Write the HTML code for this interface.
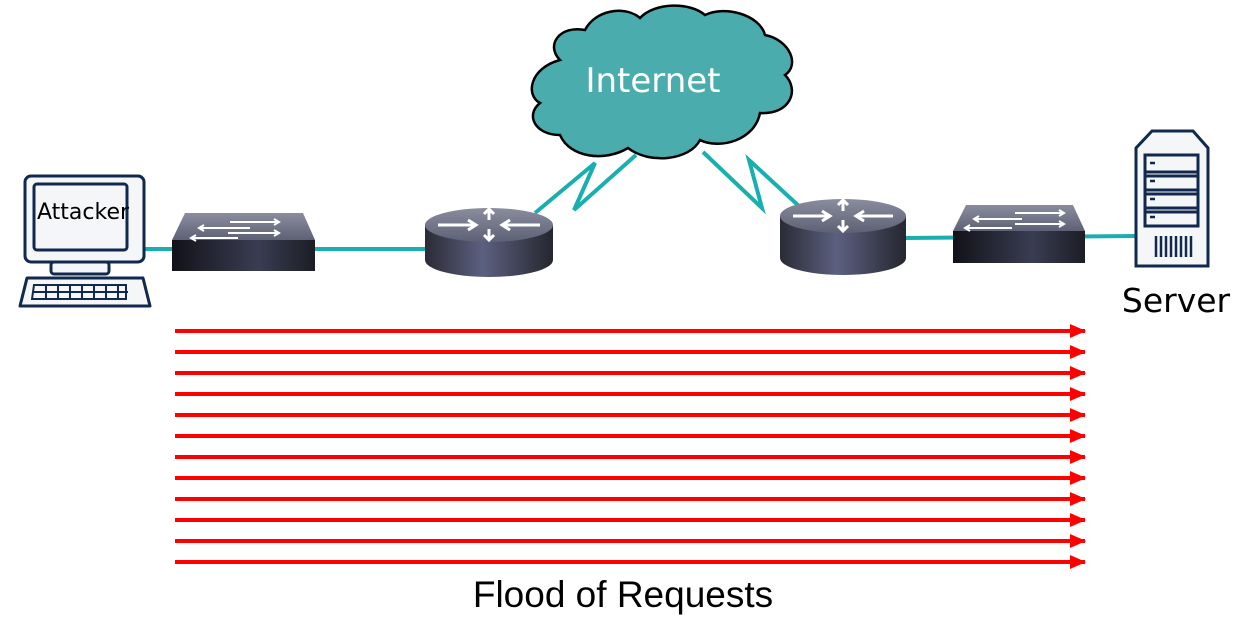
<!DOCTYPE html>
<html><head><meta charset="utf-8"><style>html,body{margin:0;padding:0;background:#fff}svg{display:block}</style></head>
<body>
<svg width="1256" height="639" viewBox="0 0 1256 639" xmlns="http://www.w3.org/2000/svg">
<defs>
<linearGradient id="body" x1="0" x2="1" y1="0" y2="0">
<stop offset="0" stop-color="#2a2b35"/><stop offset="0.45" stop-color="#5c6080"/><stop offset="1" stop-color="#25262e"/></linearGradient>
<linearGradient id="top" x1="0" x2="0" y1="0" y2="1">
<stop offset="0" stop-color="#8a8d9e"/><stop offset="1" stop-color="#5e6175"/></linearGradient>
<linearGradient id="front" x1="0" x2="1" y1="0" y2="0">
<stop offset="0" stop-color="#111218"/><stop offset="0.6" stop-color="#3a3d52"/><stop offset="1" stop-color="#1c1d25"/></linearGradient>
<marker id="ah" markerWidth="16" markerHeight="14" refX="15" refY="7" orient="auto" markerUnits="userSpaceOnUse">
<path d="M0,0 L16,7 L0,14 Z" fill="#ff0000"/></marker>
</defs>

<g stroke="#1aafaf" stroke-width="4" fill="none">
<line x1="145" y1="249" x2="430" y2="249"/>
<line x1="905" y1="238" x2="1137" y2="236"/>
<polyline points="535,213 595,163 574,210 636,155"/>
<polyline points="703,152 762,208 749,160 800,207"/>
</g>

<path d="M560,60 C545,45 560,25 585,30 C595,10 625,5 640,18 C655,2 690,2 705,15 C725,5 760,15 765,35 C790,40 800,65 785,75 C800,90 790,115 760,113 C755,140 720,150 700,140 C690,160 650,165 628,148 C605,162 570,158 560,135 C535,135 525,115 540,103 C525,95 530,68 560,60 Z" fill="#4bacad" stroke="#000" stroke-width="2.5"/>
<text x="653" y="92" font-family="'DejaVu Sans','Liberation Sans',sans-serif" font-size="34" fill="#fff" text-anchor="middle">Internet</text>

<g stroke="#12294f" stroke-width="3" fill="#f4f6f8">
<rect x="25" y="176" width="119" height="86" rx="6"/>
<rect x="34" y="184" width="93" height="66" rx="3"/>
<rect x="51" y="262" width="58" height="12" rx="3"/>
<path d="M27,278 L143,278 L150,306 L20,306 Z" stroke-linejoin="round"/>
<path d="M34,285 H126 V299 H32 Z M33,292 H128 M46,285 V299 M58,285 V299 M70,285 V299 M82,285 V299 M94,285 V299 M106,285 V299 M118,285 V299" stroke-width="2" fill="none"/>
</g>
<text x="37" y="219" font-family="'DejaVu Sans','Liberation Sans',sans-serif" font-size="22" fill="#000">Attacker</text>

<g>
<path d="M185,213 L303,213 L315,240 L172,240 Z" fill="url(#top)"/>
<rect x="172" y="240" width="143" height="31" fill="url(#front)"/>
<g stroke="#fff" stroke-width="2" fill="none">
<path d="M230,222 H278 M274,219 L279,222 L274,225"/><path d="M200,228 H250 M204,225 L199,228 L204,231"/>
<path d="M228,233 H279 M274,230 L279,233 L274,236"/><path d="M192,238 H238 M196,235 L191,238 L196,241"/>
</g>
</g>
<g>
<path d="M966,205 L1073,205 L1085,231 L953,231 Z" fill="url(#top)"/>
<rect x="953" y="231" width="132" height="32" fill="url(#front)"/>
<g stroke="#fff" stroke-width="2" fill="none">
<path d="M1015,213 H1063 M1059,210 L1064,213 L1059,216"/><path d="M975,219 H1022 M979,216 L974,219 L979,222"/>
<path d="M1015,224 H1064 M1059,221 L1064,224 L1059,227"/><path d="M966,228 H1012 M970,225 L965,228 L970,231"/>
</g>
</g>

<g>
<path d="M425,225 V260 A64,17 0 0 0 553,260 V225 Z" fill="url(#body)"/>
<ellipse cx="489" cy="225" rx="64" ry="17" fill="url(#top)"/>
<g stroke="#fff" stroke-width="3" fill="none">
<path d="M438,225 H475 M468,220 L476,225 L468,230"/><path d="M540,225 H503 M510,220 L502,225 L510,230"/>
<path d="M489,220 V210 M484,214 L489,209 L494,214"/><path d="M489,229 V239 M484,235 L489,240 L494,235"/>
</g>
</g>
<g>
<path d="M780,216 V258 A63,17 0 0 0 906,258 V216 Z" fill="url(#body)"/>
<ellipse cx="843" cy="216" rx="63" ry="17" fill="url(#top)"/>
<g stroke="#fff" stroke-width="3" fill="none">
<path d="M793,216 H829 M822,211 L830,216 L822,221"/><path d="M893,216 H857 M864,211 L856,216 L864,221"/>
<path d="M843,211 V201 M838,205 L843,200 L848,205"/><path d="M843,220 V230 M838,226 L843,231 L848,226"/>
</g>
</g>

<g stroke="#12294f" stroke-width="3" fill="#f4f6f8">
<path d="M1136,148 L1152,131 L1193,131 L1208,148 L1208,266 L1136,266 Z"/>
<rect x="1145" y="155" width="53" height="71"/>
<path d="M1145,172 H1198 M1145,176 H1198 M1145,190 H1198 M1145,194 H1198 M1145,208 H1198 M1145,212 H1198"/>
<path d="M1150,163 H1155 M1150,181 H1155 M1150,199 H1155 M1150,217 H1155" stroke-width="2.5"/>
<path d="M1156,236 V257 M1161,236 V257 M1166,236 V257 M1171,236 V257 M1176,236 V257 M1181,236 V257 M1186,236 V257 M1191,236 V257" stroke-width="2.5"/>
</g>
<text x="1176" y="312" font-family="'DejaVu Sans','Liberation Sans',sans-serif" font-size="33" fill="#000" text-anchor="middle">Server</text>

<g stroke="#ff0000" stroke-width="4" marker-end="url(#ah)">
<line x1="175" y1="331" x2="1085" y2="331"/><line x1="175" y1="352" x2="1085" y2="352"/>
<line x1="175" y1="373" x2="1085" y2="373"/><line x1="175" y1="394" x2="1085" y2="394"/>
<line x1="175" y1="415" x2="1085" y2="415"/><line x1="175" y1="436" x2="1085" y2="436"/>
<line x1="175" y1="457" x2="1085" y2="457"/><line x1="175" y1="478" x2="1085" y2="478"/>
<line x1="175" y1="499" x2="1085" y2="499"/><line x1="175" y1="520" x2="1085" y2="520"/>
<line x1="175" y1="541" x2="1085" y2="541"/><line x1="175" y1="562" x2="1085" y2="562"/>
</g>
<text x="623" y="607" font-family="'Liberation Sans',sans-serif" font-size="37" fill="#000" text-anchor="middle">Flood of Requests</text>
</svg>
</body></html>
